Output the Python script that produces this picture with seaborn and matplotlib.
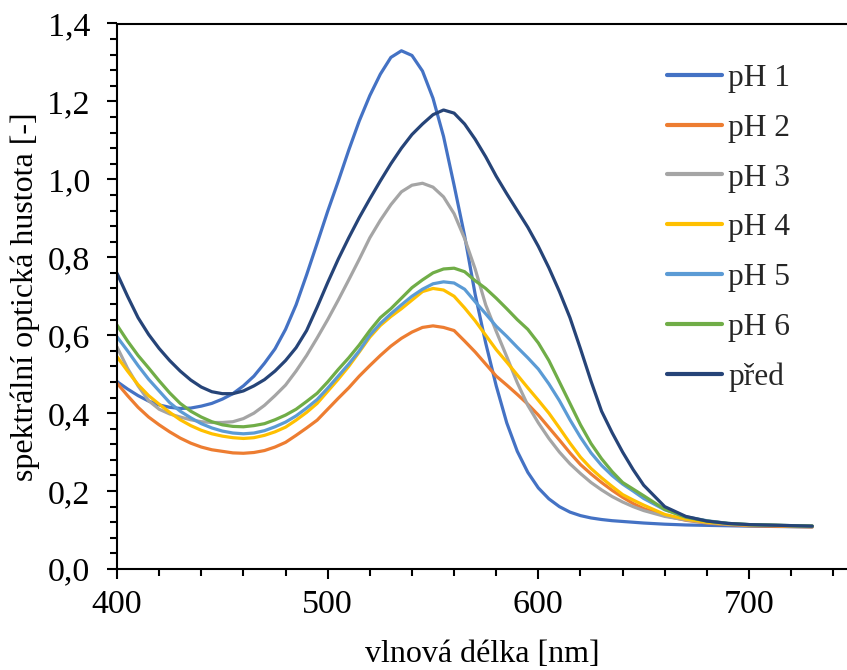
import pandas as pd
import matplotlib
matplotlib.use('Agg')
import matplotlib.pyplot as plt
from matplotlib.ticker import MultipleLocator, FuncFormatter
import seaborn as sns

# ==============================================================================
# DATA
# ==============================================================================
wavelength = list(range(400, 651, 5)) + [660, 670, 680, 690, 700, 730]

ph1 = [0.481, 0.462, 0.445, 0.431, 0.421, 0.415, 0.412, 0.413, 0.418, 0.425,
       0.436, 0.450, 0.470, 0.495, 0.528, 0.565, 0.615, 0.678, 0.755, 0.836,
       0.918, 0.995, 1.075, 1.150, 1.215, 1.270, 1.313, 1.330, 1.318, 1.278,
       1.208, 1.110, 0.985, 0.855, 0.705, 0.580, 0.470, 0.375, 0.302, 0.248,
       0.208, 0.180, 0.160, 0.146, 0.137, 0.131, 0.127, 0.124, 0.122, 0.120,
       0.118, 0.115, 0.113, 0.112, 0.111, 0.110, 0.108]
ph2 = [0.477, 0.445, 0.415, 0.390, 0.370, 0.352, 0.336, 0.323, 0.313, 0.306,
       0.302, 0.298, 0.297, 0.299, 0.304, 0.313, 0.325, 0.343, 0.362, 0.382,
       0.410, 0.438, 0.465, 0.495, 0.522, 0.548, 0.572, 0.592, 0.608, 0.620,
       0.624, 0.620, 0.612, 0.585, 0.557, 0.526, 0.495, 0.472, 0.448, 0.423,
       0.395, 0.363, 0.331, 0.298, 0.268, 0.244, 0.222, 0.202, 0.184, 0.168,
       0.155, 0.137, 0.125, 0.118, 0.114, 0.111, 0.108]
ph3 = [0.570, 0.515, 0.470, 0.432, 0.410, 0.398, 0.390, 0.383, 0.378, 0.376,
       0.376, 0.378, 0.386, 0.400, 0.420, 0.445, 0.472, 0.508, 0.548, 0.593,
       0.640, 0.690, 0.742, 0.795, 0.850, 0.895, 0.935, 0.968, 0.985, 0.990,
       0.980, 0.955, 0.912, 0.848, 0.770, 0.678, 0.610, 0.545, 0.478, 0.420,
       0.375, 0.335, 0.300, 0.270, 0.245, 0.222, 0.203, 0.186, 0.172, 0.160,
       0.150, 0.135, 0.126, 0.119, 0.115, 0.113, 0.110]
ph4 = [0.545, 0.508, 0.473, 0.445, 0.423, 0.402, 0.383, 0.368, 0.356, 0.347,
       0.341, 0.337, 0.335, 0.337, 0.343, 0.352, 0.364, 0.382, 0.402, 0.425,
       0.456, 0.487, 0.520, 0.557, 0.595, 0.625, 0.648, 0.668, 0.690, 0.712,
       0.720, 0.716, 0.700, 0.670, 0.637, 0.600, 0.563, 0.531, 0.498, 0.465,
       0.433, 0.400, 0.362, 0.323, 0.287, 0.258, 0.234, 0.212, 0.191, 0.177,
       0.164, 0.140, 0.128, 0.120, 0.116, 0.113, 0.110]
ph5 = [0.596, 0.560, 0.522, 0.487, 0.457, 0.427, 0.405, 0.388, 0.373, 0.362,
       0.354, 0.349, 0.347, 0.349, 0.355, 0.365, 0.377, 0.393, 0.413, 0.435,
       0.464, 0.495, 0.526, 0.560, 0.600, 0.630, 0.655, 0.678, 0.700, 0.718,
       0.732, 0.737, 0.734, 0.718, 0.686, 0.655, 0.623, 0.597, 0.569, 0.542,
       0.513, 0.475, 0.432, 0.383, 0.338, 0.298, 0.266, 0.240, 0.218, 0.200,
       0.181, 0.152, 0.134, 0.124, 0.117, 0.114, 0.110]
ph6 = [0.626, 0.585, 0.548, 0.516, 0.483, 0.452, 0.425, 0.405, 0.390, 0.378,
       0.370, 0.366, 0.365, 0.368, 0.373, 0.383, 0.395, 0.410, 0.430, 0.451,
       0.480, 0.512, 0.542, 0.575, 0.612, 0.645, 0.668, 0.695, 0.722, 0.742,
       0.760, 0.770, 0.772, 0.763, 0.740, 0.720, 0.695, 0.668, 0.640, 0.615,
       0.580, 0.535, 0.480, 0.425, 0.370, 0.322, 0.283, 0.250, 0.222, 0.205,
       0.188, 0.153, 0.133, 0.123, 0.117, 0.114, 0.110]
pred = [0.759, 0.700, 0.645, 0.602, 0.566, 0.535, 0.508, 0.485, 0.467, 0.455,
        0.450, 0.450, 0.457, 0.470, 0.486, 0.508, 0.535, 0.568, 0.612, 0.672,
        0.735, 0.795, 0.850, 0.902, 0.950, 0.996, 1.040, 1.080, 1.115, 1.142,
        1.166, 1.178, 1.170, 1.142, 1.103, 1.058, 1.008, 0.963, 0.920, 0.877,
        0.828, 0.773, 0.712, 0.645, 0.565, 0.482, 0.405, 0.350, 0.300, 0.255,
        0.215, 0.160, 0.135, 0.123, 0.117, 0.114, 0.110]

series_names = ['pH 1', 'pH 2', 'pH 3', 'pH 4', 'pH 5', 'pH 6', 'před']
series_values = [ph1, ph2, ph3, ph4, ph5, ph6, pred]
series_colors = ['#4472C4', '#ED7D31', '#A5A5A5', '#FFC000', '#5B9BD5',
                 '#70AD47', '#264478']

# long format table for seaborn
frames = []
for name, vals in zip(series_names, series_values):
    frames.append(pd.DataFrame({'wl': wavelength, 'od': vals, 'vzorek': name}))
df = pd.concat(frames, ignore_index=True)

# ==============================================================================
# PLOT
# ==============================================================================
sns.set_style('ticks')
plt.rcParams['font.family'] = ['Liberation Serif', 'DejaVu Serif']
plt.rcParams['axes.linewidth'] = 1.5

fig = plt.figure(figsize=(8.47, 6.70), dpi=100)
ax = fig.add_axes([117 / 847, 1 - 569 / 670, 1 - 117 / 847, (569 - 23.5) / 670])

sns.lineplot(data=df, x='wl', y='od', hue='vzorek', hue_order=series_names,
             palette=dict(zip(series_names, series_colors)), linewidth=2.3,
             sort=False, ax=ax)

ax.set_xlim(400, 746.5)
ax.set_ylim(0, 1.4)
ax.xaxis.set_major_locator(MultipleLocator(100))
ax.xaxis.set_minor_locator(MultipleLocator(20))
ax.yaxis.set_major_locator(MultipleLocator(0.2))
ax.yaxis.set_minor_locator(MultipleLocator(0.04))
ax.yaxis.set_major_formatter(FuncFormatter(lambda v, p: f'{v:.1f}'.replace('.', ',')))

ax.tick_params(axis='both', which='major', direction='out', length=7, width=1.5,
               labelsize=24.5, color='black', labelcolor='black')
ax.tick_params(axis='x', which='major', pad=8)
ax.tick_params(axis='y', which='major', pad=12.5)
ax.tick_params(axis='both', which='minor', direction='out', length=5, width=1.5,
               color='black')
ax.spines['right'].set_visible(False)
for s in ['left', 'bottom', 'top']:
    ax.spines[s].set_color('black')

ax.set_xlabel('vlnová délka [nm]', fontsize=23, color='black', labelpad=14)
ax.set_ylabel('spektrální optická hustota [-]', fontsize=23, color='black', labelpad=5)

leg = ax.legend(loc='upper left', bbox_to_anchor=(667 / 847, 1 - 64 / 670),
                bbox_transform=fig.transFigure, frameon=False, fontsize=22.7,
                handlelength=1.75, handletextpad=0.2, labelspacing=0.655,
                borderaxespad=0, borderpad=0)
for line in leg.get_lines():
    line.set_linewidth(3)

fig.savefig('out.png', dpi=100)
